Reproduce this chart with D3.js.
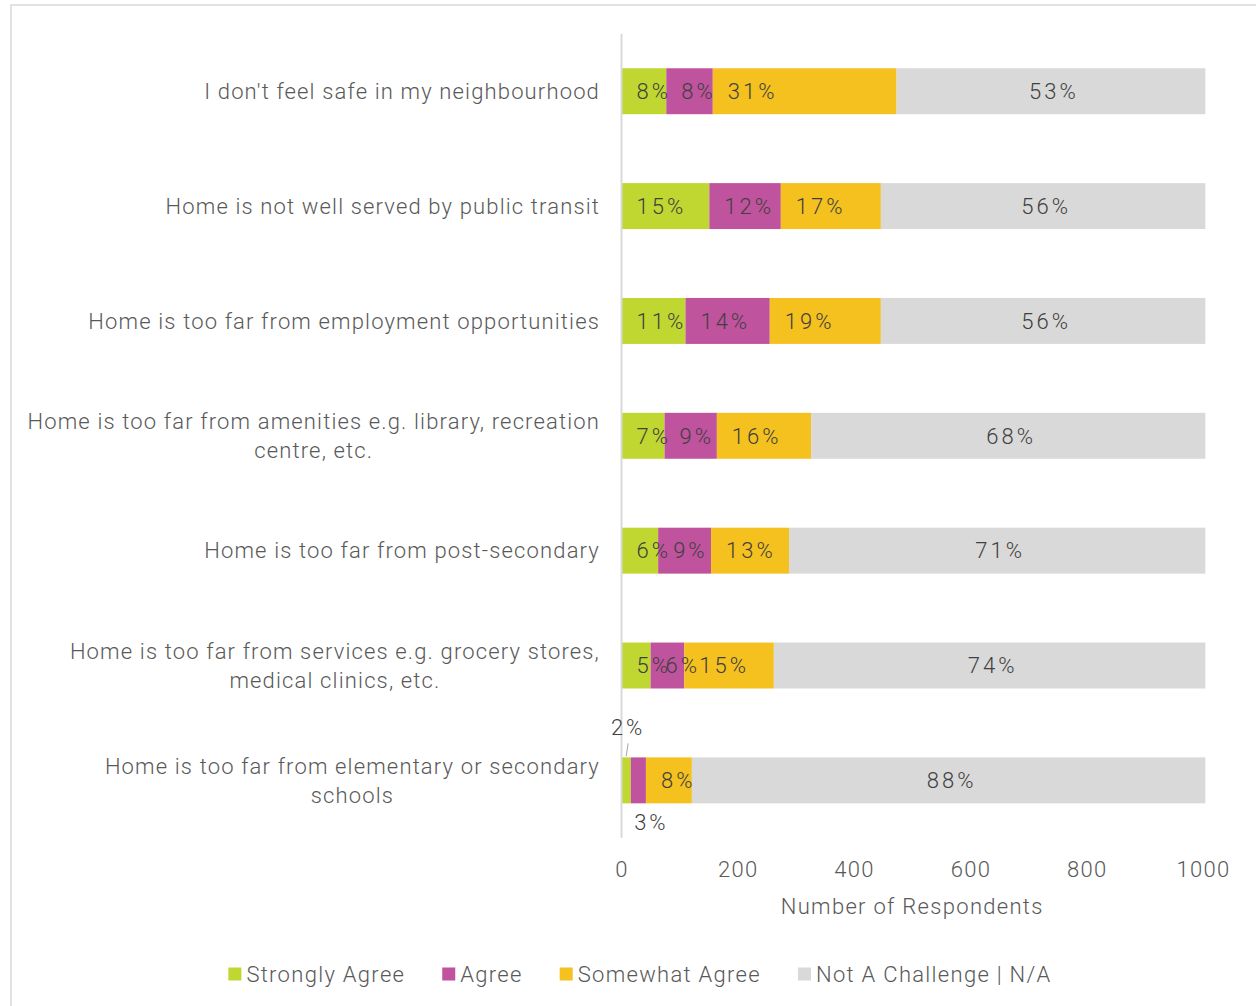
<!DOCTYPE html>
<html>
<head>
<meta charset="utf-8">
<script src="https://cdn.jsdelivr.net/npm/d3@7"></script>
<style>
  html, body { margin: 0; padding: 0; background: #fff; }
  svg { display: block; }
  text { font-family: Roboto, "Liberation Sans", sans-serif; font-weight: 300; letter-spacing: 1.3px; }
  .cat { letter-spacing: 1.15px; }
  .pct { letter-spacing: 3px; }
</style>
</head>
<body>
<svg id="chart" width="1256" height="1006"></svg>
<script>
// Survey: perceived challenges of home location (number of respondents)
const categories = [
  "I don't feel safe in my neighbourhood",
  "Home is not well served by public transit",
  "Home is too far from employment opportunities",
  "Home is too far from amenities e.g. library, recreation centre, etc.",
  "Home is too far from post-secondary",
  "Home is too far from services e.g. grocery stores, medical clinics, etc.",
  "Home is too far from elementary or secondary schools"
];
// wrapped lines of each category label
const categoryLines = [
  ["I don't feel safe in my neighbourhood"],
  ["Home is not well served by public transit"],
  ["Home is too far from employment opportunities"],
  ["Home is too far from amenities e.g. library, recreation", "centre, etc."],
  ["Home is too far from post-secondary"],
  ["Home is too far from services e.g. grocery stores,", "medical clinics, etc."],
  ["Home is too far from elementary or secondary", "schools"]
];
const seriesNames = ["Strongly Agree", "Agree", "Somewhat Agree", "Not A Challenge | N/A"];
const stronglyAgree = [77, 151, 110, 74, 63, 50, 16];
const agree = [80, 123, 145, 90, 91, 58, 26];
const somewhatAgree = [316, 172, 191, 162, 134, 154, 79];
const notAChallenge = [531, 558, 558, 678, 716, 742, 883];
const xTicks = [0, 200, 400, 600, 800, 1000];

const colors = ["#BFD730", "#C0539D", "#F4C11F", "#D9D9D9"];
const textColor = "#595959";
const labelColor = "#404040";

const rows = categories.map((c, i) => ({
  category: c,
  "Strongly Agree": stronglyAgree[i],
  "Agree": agree[i],
  "Somewhat Agree": somewhatAgree[i],
  "Not A Challenge | N/A": notAChallenge[i]
}));
rows.forEach(r => { r.total = seriesNames.reduce((s, k) => s + r[k], 0); });

const svg = d3.select("#chart");

// outer chart frame
svg.append("rect")
  .attr("x", 11).attr("y", 5)
  .attr("width", 1280).attr("height", 1040)
  .attr("fill", "none").attr("stroke", "#D9D9D9").attr("stroke-width", 1.5);

const x = d3.scaleLinear().domain([0, 1000]).range([621.5, 1203]);
const y = d3.scaleBand().domain(categories).range([33.8, 837.8])
  .paddingInner(0.6).paddingOuter(0.3);

const stacked = d3.stack().keys(seriesNames)(rows);

// bars
const layers = svg.append("g").selectAll("g")
  .data(stacked).join("g")
  .attr("fill", (d, i) => colors[i]);

layers.selectAll("rect")
  .data(d => d.map(p => ({ p, cat: p.data.category })))
  .join("rect")
  .attr("x", d => x(d.p[0]))
  .attr("y", d => y(d.cat))
  .attr("width", d => x(d.p[1]) - x(d.p[0]))
  .attr("height", y.bandwidth());

// vertical category axis line
svg.append("line")
  .attr("x1", 621.5).attr("x2", 621.5)
  .attr("y1", 33.8).attr("y2", 837.8)
  .attr("stroke", "#D9D9D9").attr("stroke-width", 2);

// category labels
const catG = svg.append("g");
categoryLines.forEach((lines, i) => {
  const cy = y(categories[i]) + y.bandwidth() / 2;
  const lh = 29;
  const top = cy - (lines.length - 1) * lh / 2;
  const t0 = catG.append("text").attr("class", "cat")
    .attr("x", 600).attr("y", top).attr("dy", "0.35em")
    .attr("text-anchor", "end")
    .attr("fill", textColor).attr("font-size", 22)
    .text(lines[0]);
  const w0 = t0.node().getComputedTextLength();
  const center = 600 - w0 / 2;
  lines.slice(1).forEach((ln, j) => {
    catG.append("text").attr("class", "cat")
      .attr("x", center).attr("y", top + (j + 1) * lh).attr("dy", "0.35em")
      .attr("text-anchor", "middle")
      .attr("fill", textColor).attr("font-size", 22)
      .text(ln);
  });
});

// data labels (share of respondents)
const pct = (v, tot) => Math.round(v / tot * 100) + "%";
const lblG = svg.append("g").attr("font-size", 22).attr("fill", labelColor);
const last = categories.length - 1;
stacked.forEach((layer, si) => {
  layer.forEach((p, ci) => {
    const v = p[1] - p[0];
    const cy = y(categories[ci]) + y.bandwidth() / 2;
    const txt = pct(v, p.data.total);
    let lx, ly = cy, anchor = "start";
    if (si === 3) {
      lx = (x(p[0]) + x(p[1])) / 2 + 3; anchor = "middle";
    } else {
      lx = x(p[0]) + 15;
    }
    if (ci === last && si === 0) {
      // small segment: label placed above with a leader line
      lx = (x(p[0]) + x(p[1])) / 2 + 2; anchor = "middle";
      ly = y(categories[ci]) - 30;
      svg.append("line")
        .attr("x1", lx).attr("y1", ly + 16)
        .attr("x2", lx - 2).attr("y2", y(categories[ci]) - 1)
        .attr("stroke", "#A6A6A6").attr("stroke-width", 1);
    } else if (ci === last && si === 1) {
      lx = (x(p[0]) + x(p[1])) / 2 + 13; anchor = "middle";
      ly = y(categories[ci]) + y.bandwidth() + 19;
    }
    lblG.append("text").attr("class", "pct")
      .attr("x", lx).attr("y", ly).attr("dy", "0.35em")
      .attr("text-anchor", anchor)
      .text(txt);
  });
});

// x axis (labels only)
const axisG = svg.append("g").attr("transform", "translate(0,869)")
  .call(d3.axisBottom(x).tickValues(xTicks).tickFormat(d3.format("d")).tickSize(0).tickPadding(0));
axisG.select(".domain").remove();
axisG.selectAll("text")
  .attr("dy", "0.35em")
  .attr("font-size", 22).attr("fill", textColor)
  .attr("font-family", null);

svg.append("text")
  .attr("x", (621.5 + 1203) / 2).attr("y", 906).attr("dy", "0.35em")
  .attr("text-anchor", "middle")
  .attr("font-size", 22).attr("fill", textColor)
  .text("Number of Respondents");

// legend
const legG = svg.append("g");
const items = [];
seriesNames.forEach((name, i) => {
  const g = legG.append("g");
  g.append("rect").attr("x", 0).attr("y", -6.5).attr("width", 13).attr("height", 13)
    .attr("fill", colors[i]);
  const t = g.append("text").attr("x", 18).attr("y", 0).attr("dy", "0.35em")
    .attr("font-size", 22).attr("fill", textColor).text(name);
  const w = 18 + t.node().getComputedTextLength();
  items.push({ g, w });
});
const gap = 37;
const totalW = d3.sum(items, d => d.w) + gap * (items.length - 1);
let cur = 640 - totalW / 2;
items.forEach(it => {
  it.g.attr("transform", `translate(${cur},974)`);
  cur += it.w + gap;
});
</script>
</body>
</html>
